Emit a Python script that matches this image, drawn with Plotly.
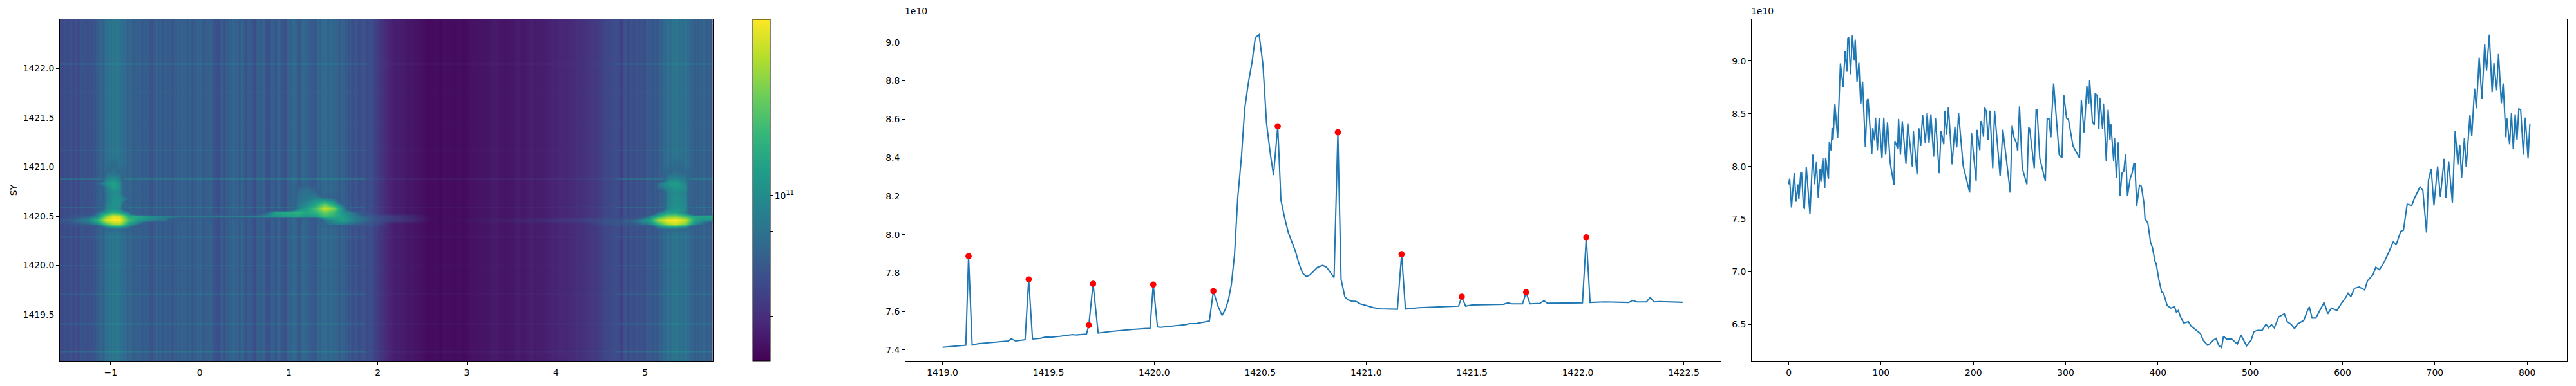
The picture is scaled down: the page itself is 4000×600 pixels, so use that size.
import numpy as np
import plotly.graph_objects as go

# ---- right panel: row slice, values in units of 1e10
SLICE_INDEX = [0,1,3,6,8,10,11,13,14,16,17,19,23,26,28,30,32,34,35,37,39,40,43,44,46,47,48,50,53,56,59,61,63,64,65,67,69,71,72,74,76,78,80,83,85,86,90,91,93,94,96,98,101,103,105,107,110,114,115,118,119,121,123,127,129,132,134,135,139,141,143,145,148,150,152,154,157,159,163,165,168,169,171,173,177,180,182,184,189,196,198,203,204,207,208,209,211,212,214,216,218,221,223,229,232,240,242,244,247,248,250,253,258,260,261,266,268,269,272,278,280,282,284,285,287,293,296,298,301,303,308,315,317,320,323,325,326,329,331,332,334,336,337,340,341,344,346,348,349,352,353,355,357,359,361,363,365,367,370,372,374,375,377,380,382,385,386,389,392,394,397,398,401,404,406,410,414,418,420,422,425,428,433,436,443,446,449,454,456,460,463,466,469,471,474,480,486,490,496,501,504,508,513,517,520,523,526,531,537,540,544,548,551,558,562,564,567,571,580,584,588,594,598,603,606,609,613,618,624,627,633,636,640,645,650,655,658,663,666,670,675,678,684,687,691,693,696,699,703,706,710,712,715,719,722,725,727,729,732,734,738,740,743,745,748,751,754,756,759,762,764,767,769,772,774,777,778,781,783,785,787,789,791,793,796,798,801,803]
SLICE_VALUE = [7.83,7.884,7.611,7.936,7.665,7.83,7.689,7.936,7.936,7.607,7.602,7.994,7.546,8.112,7.83,8.041,7.705,7.976,7.853,8.077,7.795,8.084,7.877,8.236,8.152,8.366,8.253,8.593,8.269,8.979,8.751,9.094,8.899,9.216,9.221,8.875,9.249,9.005,9.204,8.805,8.984,8.591,8.805,8.182,8.629,8.64,8.119,8.363,8.246,8.464,8.154,8.457,8.077,8.464,8.112,8.417,8.03,7.823,8.241,8.171,8.452,8.112,8.429,8.025,8.41,8.171,7.994,8.335,7.924,8.363,8.194,8.492,8.222,8.504,8.222,8.495,8.093,8.457,7.936,8.335,8.21,8.53,8.30,8.565,8.02,8.377,8.18,8.504,8.006,7.752,8.316,7.86,8.347,8.154,8.429,8.417,8.281,8.565,8.523,8.253,8.53,7.983,8.528,7.907,8.349,7.752,8.387,8.276,8.218,8.147,8.57,7.983,7.83,8.37,8.358,7.983,8.542,8.542,8.077,7.86,8.452,8.452,8.276,8.488,8.789,8.112,8.081,8.68,8.457,8.448,8.194,8.081,8.629,8.323,8.765,8.598,8.817,8.429,8.394,8.692,8.676,8.358,8.652,8.358,8.598,8.053,8.539,8.253,8.401,8.053,8.269,7.889,8.229,7.724,7.936,7.954,8.119,7.717,7.889,7.936,8.03,8.025,7.625,7.823,7.813,7.642,7.50,7.466,7.278,7.231,7.09,7.078,6.925,6.808,6.796,6.679,6.655,6.667,6.615,6.631,6.56,6.514,6.526,6.483,6.432,6.413,6.35,6.30,6.314,6.35,6.366,6.298,6.279,6.389,6.361,6.361,6.314,6.397,6.296,6.35,6.432,6.443,6.443,6.502,6.467,6.498,6.467,6.573,6.601,6.526,6.502,6.46,6.502,6.538,6.631,6.667,6.56,6.56,6.709,6.601,6.655,6.631,6.69,6.749,6.796,6.765,6.843,6.855,6.827,6.914,6.972,7.043,7.019,7.09,7.184,7.285,7.254,7.383,7.395,7.642,7.63,7.70,7.806,7.771,7.372,7.865,7.978,7.63,8.001,7.712,8.072,7.70,8.044,7.654,8.335,8.018,8.206,7.893,8.269,7.994,8.488,8.288,8.739,8.551,9.033,8.64,9.162,8.911,9.251,8.706,8.981,8.723,9.068,8.60,8.789,8.276,8.46,8.21,8.504,8.163,8.495,8.253,8.546,8.539,8.112,8.464,8.077,8.406]

# ---- middle panel: column slice, values in units of 1e10
PROFILE_SY = [1419.0,1419.11,1419.123,1419.14,1419.17,1419.22,1419.28,1419.31,1419.325,1419.345,1419.39,1419.407,1419.425,1419.46,1419.49,1419.51,1419.56,1419.615,1419.63,1419.68,1419.691,1419.711,1419.735,1419.8,1419.9,1419.98,1419.995,1420.015,1420.03,1420.1,1420.15,1420.165,1420.2,1420.26,1420.279,1420.30,1420.32,1420.335,1420.35,1420.364,1420.379,1420.394,1420.412,1420.427,1420.445,1420.462,1420.477,1420.495,1420.513,1420.53,1420.548,1420.563,1420.583,1420.598,1420.615,1420.633,1420.666,1420.683,1420.70,1420.718,1420.734,1420.751,1420.771,1420.796,1420.814,1420.849,1420.867,1420.882,1420.90,1420.917,1420.935,1420.952,1420.972,1421.0,1421.035,1421.07,1421.148,1421.168,1421.186,1421.25,1421.387,1421.437,1421.452,1421.47,1421.5,1421.65,1421.67,1421.688,1421.739,1421.756,1421.774,1421.82,1421.84,1421.857,1422.022,1422.04,1422.058,1422.128,1422.241,1422.259,1422.279,1422.324,1422.342,1422.36,1422.385,1422.495]
PROFILE_VALUE = [7.414,7.425,7.888,7.425,7.433,7.438,7.446,7.447,7.458,7.447,7.453,7.767,7.457,7.46,7.468,7.466,7.472,7.48,7.478,7.483,7.529,7.744,7.488,7.497,7.507,7.513,7.74,7.52,7.518,7.527,7.532,7.537,7.538,7.55,7.706,7.63,7.58,7.61,7.66,7.74,7.895,8.19,8.41,8.655,8.795,8.90,9.025,9.04,8.885,8.58,8.42,8.31,8.563,8.18,8.09,8.01,7.915,7.85,7.80,7.782,7.79,7.808,7.83,7.84,7.83,7.777,8.532,7.767,7.676,7.66,7.653,7.653,7.64,7.632,7.62,7.614,7.612,7.898,7.613,7.62,7.626,7.628,7.677,7.628,7.634,7.638,7.645,7.64,7.64,7.70,7.64,7.642,7.656,7.643,7.645,7.986,7.647,7.65,7.647,7.658,7.65,7.65,7.673,7.65,7.652,7.648]
PEAK_SY = [1419.123,1419.407,1419.691,1419.711,1419.995,1420.279,1420.583,1420.867,1421.168,1421.452,1421.756,1422.04]
PEAK_VALUE = [7.888,7.767,7.529,7.744,7.74,7.706,8.563,8.532,7.898,7.677,7.70,7.986]

# ---- left panel: rows, faint horizontal lines (added level, 1e10)
HEAT_SY = [1419.0,1419.118,1419.13,1419.142,1419.398,1419.41,1419.422,1419.698,1419.71,1419.722,1419.988,1420.0,1420.012,1420.278,1420.29,1420.302,1420.578,1420.59,1420.602,1420.868,1420.88,1420.892,1421.158,1421.17,1421.182,1421.448,1421.46,1421.472,1421.748,1421.76,1421.772,1422.038,1422.05,1422.062,1422.5]
HEAT_ROW_LEVEL = [0,0,0.7,0,0,0.7,0,0,0.45,0,0,0.6,0,0,0.55,0,0,0.6,0,0,1.7,0,0,0.7,0,0,0.1,0,0,0.1,0,0,0.75,0,0]
COLUMN_LINE_WEIGHT_BREAKS = [1.87, 4.7]

# ---- left panel: bright features, levels in percent of the colour bar
BLOB_X = [-1.57,-1.4,-1.25,-1.15,-1.05,-.97,-.9,-.8,-.7,-.55,-.4,-.2,0,
          .3,.6,.85,1.0,1.1,1.2,1.3,1.4,1.5,1.6,1.75,1.95,2.15,2.4,2.6,
          3.6,3.95,4.3,4.6,4.85,5.05,5.15,5.25,5.34,5.45,5.55,5.65,5.76]
BLOB_Y = [1420.32,1420.38,1420.42,1420.46,1420.50,1420.54,1420.58,1420.62,1420.68,1420.74,1420.79,1420.83,1420.87,1420.93,1421.02,1421.10]
BLOB_LEVEL = [
 [0,0,0,0,0,0,0,0,0,0,0,0,0,  0,0,0,0,0,0,0,0,0,0,0,0,0,0,0,  0,0,0,0,0,0,0,0,0,0,0,0,0],
 [0,0,0,0,38,44,44,36,0,0,0,0,0,  0,0,0,0,0,0,0,0,0,0,0,0,0,0,0,  0,0,0,0,0,0,38,46,46,38,0,0,0],
 [0,30,36,48,72,86,86,58,42,0,0,0,0,  0,0,0,0,0,0,0,36,42,44,36,26,0,0,0,  0,0,0,22,30,46,66,86,92,80,50,36,0],
 [32,38,46,64,94,100,100,70,55,46,40,0,0,  0,0,0,0,0,0,0,40,50,56,44,32,26,16,0,  10,14,20,28,36,56,86,98,100,92,60,50,48],
 [0,28,36,48,82,96,92,62,60,50,46,44,44,  45,46,52,56,58,52,56,68,62,56,42,30,24,14,0,  0,0,0,0,0,44,64,78,82,70,58,58,60],
 [0,0,0,38,56,66,60,42,0,0,0,0,0,  0,0,58,62,64,60,64,78,68,52,38,0,0,0,0,  0,0,0,0,0,0,40,56,58,44,0,0,0],
 [0,0,0,0,46,50,48,0,0,0,0,0,0,  0,0,0,0,44,56,70,92,80,50,0,0,0,0,0,  0,0,0,0,0,0,0,46,52,48,0,0,0],
 [0,0,0,0,44,50,50,0,0,0,0,0,0,  0,0,0,0,42,48,60,78,62,40,0,0,0,0,0,  0,0,0,0,0,0,0,44,50,46,0,0,0],
 [0,0,0,0,40,50,50,38,0,0,0,0,0,  0,0,0,0,38,40,46,42,36,0,0,0,0,0,0,  0,0,0,0,0,0,0,42,50,46,0,0,0],
 [0,0,0,0,42,48,46,0,0,0,0,0,0,  0,0,0,0,36,40,36,0,0,0,0,0,0,0,0,  0,0,0,0,0,0,0,44,48,44,0,0,0],
 [0,0,0,0,44,54,50,0,0,0,0,0,0,  0,0,0,0,34,38,30,0,0,0,0,0,0,0,0,  0,0,0,0,0,0,38,46,52,48,0,0,0],
 [0,0,0,36,50,58,48,0,0,0,0,0,0,  0,0,0,0,0,34,0,0,0,0,0,0,0,0,0,  0,0,0,0,0,0,40,52,56,46,0,0,0],
 [0,0,0,0,46,50,44,0,0,0,0,0,0,  0,0,0,0,0,0,0,0,0,0,0,0,0,0,0,  0,0,0,0,0,0,0,44,48,40,0,0,0],
 [0,0,0,0,38,40,36,0,0,0,0,0,0,  0,0,0,0,0,0,0,0,0,0,0,0,0,0,0,  0,0,0,0,0,0,0,36,38,34,0,0,0],
 [0,0,0,0,0,34,0,0,0,0,0,0,0,  0,0,0,0,0,0,0,0,0,0,0,0,0,0,0,  0,0,0,0,0,0,0,0,32,0,0,0,0],
 [0,0,0,0,0,0,0,0,0,0,0,0,0,  0,0,0,0,0,0,0,0,0,0,0,0,0,0,0,  0,0,0,0,0,0,0,0,0,0,0,0,0],
]

W, H = 4000, 600
TOP, BOTTOM = 30, 561
Y_DOMAIN = [(H - BOTTOM) / H, (H - TOP) / H]
FONT = "DejaVu Sans"
BLUE = "#1f77b4"
HEAT_LEFT, HEAT_RIGHT = -1.57, 5.76

slice_value = np.array(SLICE_VALUE)
heat_x = HEAT_LEFT + np.array(SLICE_INDEX) * (HEAT_RIGHT - HEAT_LEFT) / SLICE_INDEX[-1]
weight = np.where((heat_x > COLUMN_LINE_WEIGHT_BREAKS[0]) & (heat_x < COLUMN_LINE_WEIGHT_BREAKS[1]), 0.22, 1.0)
z = np.log10((slice_value[None, :] + np.array(HEAT_ROW_LEVEL)[:, None] * weight[None, :]) * 1e10)

ZMIN, ZMAX = np.log10(6.14e10), np.log10(1.68e11)
BLOB_SCALE = [
    [0.0, "rgba(53,95,141,0)"], [0.3, "rgba(53,95,141,0.55)"], [0.4, "rgba(42,120,142,0.85)"],
    [0.5, "rgba(33,145,140,1)"], [0.6, "rgba(34,168,132,1)"], [0.7, "rgba(68,191,112,1)"],
    [0.8, "rgba(122,209,81,1)"], [0.9, "rgba(189,223,38,1)"], [1.0, "rgba(253,231,37,1)"],
]

fig = go.Figure()
fig.add_trace(go.Heatmap(
    x=heat_x, y=HEAT_SY, z=z, zmin=ZMIN, zmax=ZMAX, colorscale="Viridis", zsmooth="best",
    hoverinfo="skip", xaxis="x", yaxis="y",
    colorbar=dict(
        x=1169 / W, xanchor="left", xpad=0, thickness=27, thicknessmode="pixels",
        y=Y_DOMAIN[0], yanchor="bottom", ypad=0, len=Y_DOMAIN[1] - Y_DOMAIN[0], lenmode="fraction",
        outlinecolor="black", outlinewidth=1, ticks="outside", ticklen=4, tickwidth=1, tickcolor="black",
        tickvals=[np.log10(7e10), np.log10(8e10), np.log10(9e10), 11.0],
        ticktext=[" ", " ", " ", "10<sup>11</sup>"], tickfont=dict(family=FONT, size=13.9, color="black"),
    ),
))
fig.add_trace(go.Heatmap(
    x=BLOB_X, y=BLOB_Y, z=BLOB_LEVEL, zmin=0, zmax=100, colorscale=BLOB_SCALE, zsmooth="best",
    showscale=False, hoverinfo="skip", xaxis="x", yaxis="y",
))
fig.add_trace(go.Scatter(x=PROFILE_SY, y=PROFILE_VALUE, mode="lines", line=dict(color=BLUE, width=2.08),
                         xaxis="x2", yaxis="y2"))
fig.add_trace(go.Scatter(x=PEAK_SY, y=PEAK_VALUE, mode="markers",
                         marker=dict(color="#ff0000", size=9.7, line=dict(width=0)), xaxis="x2", yaxis="y2"))
fig.add_trace(go.Scatter(x=SLICE_INDEX, y=SLICE_VALUE, mode="lines", line=dict(color=BLUE, width=2.08),
                         xaxis="x3", yaxis="y3"))

def axis(**kw):
    base = dict(showgrid=False, zeroline=False, showline=True, mirror=True, linecolor="black", linewidth=1,
                ticks="outside", ticklen=5, tickwidth=1, tickcolor="black",
                tickfont=dict(family=FONT, size=13.9, color="black"))
    base.update(kw)
    return base

fig.update_layout(
    width=W, height=H, margin=dict(l=0, r=0, t=0, b=0), showlegend=False,
    paper_bgcolor="white", plot_bgcolor="white", font=dict(family=FONT, size=13.9, color="black"),
    xaxis=axis(domain=[93 / W, 1106.7 / W], range=[HEAT_LEFT, HEAT_RIGHT], tickvals=[-1, 0, 1, 2, 3, 4, 5]),
    yaxis=axis(domain=Y_DOMAIN, range=[1419.03, 1422.5], tickvals=[1419.5, 1420, 1420.5, 1421, 1421.5, 1422],
               tickformat=".1f", title=dict(text="SY", standoff=5, font=dict(family=FONT, size=13.9, color="black"))),
    xaxis2=axis(domain=[1406 / W, 2672 / W], range=[1418.825, 1422.675],
                tickvals=[1419, 1419.5, 1420, 1420.5, 1421, 1421.5, 1422, 1422.5], tickformat=".1f", anchor="y2"),
    yaxis2=axis(domain=Y_DOMAIN, range=[7.343, 9.12], tickvals=[7.4, 7.6, 7.8, 8.0, 8.2, 8.4, 8.6, 8.8, 9.0],
                tickformat=".1f", anchor="x2"),
    xaxis3=axis(domain=[2720 / W, 3986 / W], range=[-40.15, 843.15],
                tickvals=[0, 100, 200, 300, 400, 500, 600, 700, 800], anchor="y3"),
    yaxis3=axis(domain=Y_DOMAIN, range=[6.153, 9.397], tickvals=[6.5, 7.0, 7.5, 8.0, 8.5, 9.0],
                tickformat=".1f", anchor="x3"),
    annotations=[
        dict(text="1e10", xref="paper", yref="paper", x=1406 / W, y=Y_DOMAIN[1] + 3 / H, xanchor="left",
             yanchor="bottom", showarrow=False, xshift=-3, font=dict(family=FONT, size=13.9, color="black")),
        dict(text="1e10", xref="paper", yref="paper", x=2720 / W, y=Y_DOMAIN[1] + 3 / H, xanchor="left",
             yanchor="bottom", showarrow=False, xshift=-3, font=dict(family=FONT, size=13.9, color="black")),
    ],
)

fig.write_html("out.html", config=dict(displayModeBar=False), post_script="document.body.style.margin='0';")
